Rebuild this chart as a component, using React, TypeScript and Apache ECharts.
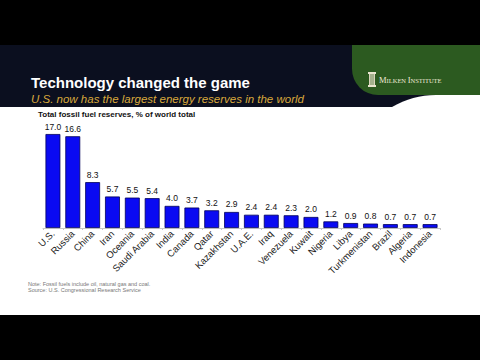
import React, { useEffect, useRef } from "react";
import * as echarts from "echarts";

const categories = ["U.S.", "Russia", "China", "Iran", "Oceania", "Saudi Arabia", "India", "Canada", "Qatar", "Kazakhstan", "U.A.E.", "Iraq", "Venezuela", "Kuwait", "Nigeria", "Libya", "Turkmenistan", "Brazil", "Algeria", "Indonesia"];
const reserves = [17.0, 16.6, 8.3, 5.7, 5.5, 5.4, 4.0, 3.7, 3.2, 2.9, 2.4, 2.4, 2.3, 2.0, 1.2, 0.9, 0.8, 0.7, 0.7, 0.7];

const titleText = "Technology changed the game";
const subtitleText = "U.S. now has the largest energy reserves in the world";
const chartLabel = "Total fossil fuel reserves, % of world total";
const noteLines = ["Note: Fossil fuels include oil, natural gas and coal.", "Source: U.S. Congressional Research Service"];

let registered = false;
function registerShapes() {
  if (registered) return;
  registered = true;
  echarts.graphic.registerShape(
    "curveCut",
    echarts.graphic.extendPath("M0 12 C 14 4 28 0 44 0 L 90 0 L 90 13 L 0 13 Z", {}) as any
  );
}

export default function App() {
  const ref = useRef<HTMLDivElement>(null);
  useEffect(() => {
    if (!ref.current) return;
    registerShapes();
    const chart = echarts.init(ref.current, undefined, { renderer: "svg" });
    const navy = "#0b0f1f";
    const green = "#2c5a20";
    const sans = "'Liberation Sans', Arial, sans-serif";
    chart.setOption({
      animation: false,
      backgroundColor: "#ffffff",
      grid: { left: 43, right: 40, top: 128.5, bottom: 132, containLabel: false },
      xAxis: {
        type: "category",
        data: categories,
        axisLine: { show: true, lineStyle: { color: "#c8c8c8", width: 1 } },
        axisTick: { show: true, length: 2, lineStyle: { color: "#c8c8c8" } },
        axisLabel: {
          rotate: 45,
          interval: 0,
          margin: 4,
          fontSize: 9.5,
          color: "#222",
          fontFamily: sans,
        },
      },
      yAxis: { type: "value", min: 0, max: 18, show: false, splitLine: { show: false } },
      series: [
        {
          type: "bar",
          data: reserves,
          barWidth: "75%",
          itemStyle: { color: "#0a0af2", borderColor: "#00005a", borderWidth: 0.8 },
          label: {
            show: true,
            position: "top",
            distance: 3,
            fontSize: 8.5,
            color: "#111",
            fontFamily: sans,
            formatter: (p: any) => Number(p.value).toFixed(1),
          },
        },
      ],
      graphic: [
        { type: "rect", z: -5, shape: { x: 0, y: 0, width: 480, height: 45 }, style: { fill: "#000" }, silent: true },
        { type: "rect", z: -5, shape: { x: 0, y: 315, width: 480, height: 45 }, style: { fill: "#000" }, silent: true },
        { type: "rect", z: -5, shape: { x: 0, y: 45, width: 480, height: 62 }, style: { fill: navy }, silent: true },
        { type: "rect", z: -4, shape: { x: 352, y: 45, width: 128, height: 50, r: [0, 0, 0, 26] }, style: { fill: green }, silent: true },
        { type: "curveCut", z: -4, x: 392, y: 95, style: { fill: "#ffffff" }, silent: true },
        { type: "rect", z: 1, shape: { x: 368, y: 72, width: 8, height: 2 }, style: { fill: "#e8e4cf" }, silent: true },
        { type: "rect", z: 1, shape: { x: 368, y: 85, width: 8, height: 2 }, style: { fill: "#e8e4cf" }, silent: true },
        { type: "rect", z: 1, shape: { x: 369, y: 74, width: 6, height: 11 }, style: { fill: "#d8d4bc" }, silent: true },
        { type: "line", z: 2, shape: { x1: 371, y1: 74, x2: 371, y2: 85 }, style: { stroke: green, lineWidth: 0.6 }, silent: true },
        { type: "line", z: 2, shape: { x1: 373, y1: 74, x2: 373, y2: 85 }, style: { stroke: green, lineWidth: 0.6 }, silent: true },
        {
          type: "text",
          z: 2,
          x: 379,
          y: 80,
          style: {
            text: "{b|M}{s|ILKEN }{b|I}{s|NSTITUTE}",
            fill: "#ece8d4",
            verticalAlign: "middle",
            rich: {
              b: { fontSize: 8.5, fontFamily: "Liberation Serif, serif", fill: "#ece8d4" },
              s: { fontSize: 6.5, fontFamily: "Liberation Serif, serif", fill: "#ece8d4" },
            },
          },
          silent: true,
        },
        {
          type: "text",
          z: 2,
          x: 31,
          y: 82,
          style: { text: titleText, fill: "#ffffff", font: "bold 15px " + sans, verticalAlign: "middle" },
          silent: true,
        },
        {
          type: "text",
          z: 2,
          x: 31,
          y: 99,
          style: { text: subtitleText, fill: "#d9a93c", font: "italic 11.5px " + sans, verticalAlign: "middle" },
          silent: true,
        },
        {
          type: "text",
          z: 2,
          x: 38,
          y: 114,
          style: { text: chartLabel, fill: "#111", font: "bold 8px " + sans, verticalAlign: "middle" },
          silent: true,
        },
        {
          type: "text",
          z: 2,
          x: 28,
          y: 283.5,
          style: { text: noteLines[0], fill: "#777", font: "5.5px " + sans, verticalAlign: "middle" },
          silent: true,
        },
        {
          type: "text",
          z: 2,
          x: 28,
          y: 289.5,
          style: { text: noteLines[1], fill: "#777", font: "5.5px " + sans, verticalAlign: "middle" },
          silent: true,
        },
      ],
    });
    return () => chart.dispose();
  }, []);
  return <div ref={ref} style={{ position: "fixed", left: 0, top: 0, width: 480, height: 360 }} />;
}
